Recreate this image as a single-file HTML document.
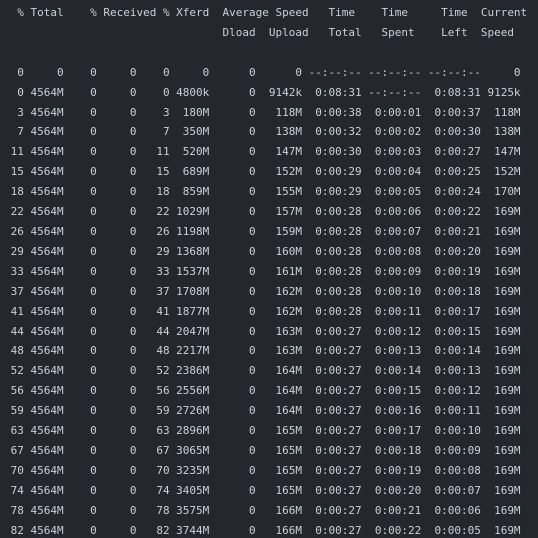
<!DOCTYPE html>
<html><head><meta charset="utf-8"><style>
html,body{margin:0;padding:0;background:#24282e;width:538px;height:538px;overflow:hidden}
pre{margin:0;padding:3px 0 0 4px;font-family:"DejaVu Sans Mono","Liberation Mono",monospace;font-size:11px;line-height:19.9px;color:#c9d1d9;white-space:pre}
</style></head><body>
<pre>  % Total    % Received % Xferd  Average Speed   Time    Time     Time  Current
                                 Dload  Upload   Total   Spent    Left  Speed

  0     0    0     0    0     0      0      0 --:--:-- --:--:-- --:--:--     0
  0 4564M    0     0    0 4800k      0  9142k  0:08:31 --:--:--  0:08:31 9125k
  3 4564M    0     0    3  180M      0   118M  0:00:38  0:00:01  0:00:37  118M
  7 4564M    0     0    7  350M      0   138M  0:00:32  0:00:02  0:00:30  138M
 11 4564M    0     0   11  520M      0   147M  0:00:30  0:00:03  0:00:27  147M
 15 4564M    0     0   15  689M      0   152M  0:00:29  0:00:04  0:00:25  152M
 18 4564M    0     0   18  859M      0   155M  0:00:29  0:00:05  0:00:24  170M
 22 4564M    0     0   22 1029M      0   157M  0:00:28  0:00:06  0:00:22  169M
 26 4564M    0     0   26 1198M      0   159M  0:00:28  0:00:07  0:00:21  169M
 29 4564M    0     0   29 1368M      0   160M  0:00:28  0:00:08  0:00:20  169M
 33 4564M    0     0   33 1537M      0   161M  0:00:28  0:00:09  0:00:19  169M
 37 4564M    0     0   37 1708M      0   162M  0:00:28  0:00:10  0:00:18  169M
 41 4564M    0     0   41 1877M      0   162M  0:00:28  0:00:11  0:00:17  169M
 44 4564M    0     0   44 2047M      0   163M  0:00:27  0:00:12  0:00:15  169M
 48 4564M    0     0   48 2217M      0   163M  0:00:27  0:00:13  0:00:14  169M
 52 4564M    0     0   52 2386M      0   164M  0:00:27  0:00:14  0:00:13  169M
 56 4564M    0     0   56 2556M      0   164M  0:00:27  0:00:15  0:00:12  169M
 59 4564M    0     0   59 2726M      0   164M  0:00:27  0:00:16  0:00:11  169M
 63 4564M    0     0   63 2896M      0   165M  0:00:27  0:00:17  0:00:10  169M
 67 4564M    0     0   67 3065M      0   165M  0:00:27  0:00:18  0:00:09  169M
 70 4564M    0     0   70 3235M      0   165M  0:00:27  0:00:19  0:00:08  169M
 74 4564M    0     0   74 3405M      0   165M  0:00:27  0:00:20  0:00:07  169M
 78 4564M    0     0   78 3575M      0   166M  0:00:27  0:00:21  0:00:06  169M
 82 4564M    0     0   82 3744M      0   166M  0:00:27  0:00:22  0:00:05  169M</pre>
</body></html>
